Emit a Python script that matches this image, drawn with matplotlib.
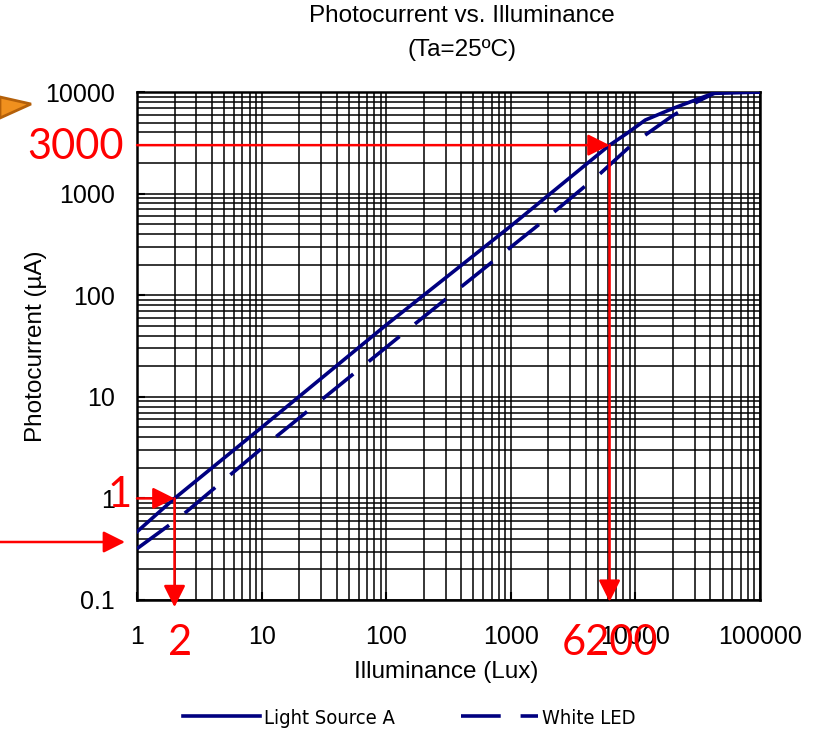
import numpy as np
import matplotlib.pyplot as plt
from matplotlib.ticker import LogLocator, FixedLocator, FixedFormatter, NullFormatter
from matplotlib.patches import Polygon, FancyArrowPatch

plt.rcParams['font.family'] = ['Liberation Sans', 'DejaVu Sans']

# curve data
lux_a = [1, 2, 10, 100, 1000, 6200, 8500, 12000, 20000, 42000, 100000]
ia_a = [0.47, 1.0, 5.0, 51, 480, 3000, 3900, 5300, 6900, 9700, 10000]

lux_led = [1, 2.2, 10, 199, 1715, 5200, 9550, 20000, 33000, 45000, 100000]
ia_led = [0.32, 0.65, 3.1, 61, 506, 1570, 3100, 5880, 8300, 10000, 10000]

xticks = [1, 10, 100, 1000, 10000, 100000]
xtick_labels = ['1', '10', '100', '1000', '10000', '100000']
yticks = [0.1, 1, 10, 100, 1000, 10000]
ytick_labels = ['0.1', '1', '10', '100', '1000', '10000']

# red reading marks: (lux, photocurrent)
mark_x = [2, 6200]
mark_y = [1, 3000]

navy = '#000080'
red = '#ff0000'

fig = plt.figure(figsize=(8.19, 7.38), dpi=100)
ax = fig.add_axes([0.1673, 0.187, 0.7607, 0.6883])

la, = ax.plot(lux_a, ia_a, color=navy, lw=2.6, label='Light Source A', zorder=3)
lw_, = ax.plot(lux_led, ia_led, color=navy, lw=2.6, dashes=(11, 5.5),
               label='White LED', zorder=3)

ax.set_xscale('log')
ax.set_yscale('log')
ax.set_xlim(1, 100000)
ax.set_ylim(0.1, 10000)

ax.xaxis.set_major_locator(FixedLocator(xticks))
ax.xaxis.set_major_formatter(FixedFormatter(xtick_labels))
ax.yaxis.set_major_locator(FixedLocator(yticks))
ax.yaxis.set_major_formatter(FixedFormatter(ytick_labels))
for a in (ax.xaxis, ax.yaxis):
    a.set_minor_locator(LogLocator(base=10, subs=np.arange(2, 10), numticks=20))
    a.set_minor_formatter(NullFormatter())

ax.grid(True, which='both', color='black', lw=1.1)
ax.tick_params(which='major', direction='in', length=6, width=1.5,
               labelsize=18, colors='black')
ax.tick_params(axis='x', which='major', pad=18)
ax.tick_params(axis='y', which='major', pad=16)
ax.tick_params(which='minor', length=0)
for s in ax.spines.values():
    s.set_linewidth(1.8)

ax.set_xlabel('Illuminance (Lux)', fontsize=17.5)
ax.set_ylabel('Photocurrent (\u00b5A)', fontsize=17.5)
ax.xaxis.set_label_coords(0.496, -0.12)
ax.yaxis.set_label_coords(-0.145, 0.5)

fig.text(0.564, 0.978, 'Photocurrent vs. Illuminance', fontsize=17.5,
         ha='center', va='center')
fig.text(0.564, 0.932, '(Ta=25\u00baC)', fontsize=17.5, ha='center', va='center')

# red reading arrows
arrow = dict(arrowstyle='-|>,head_length=0.6,head_width=0.3', color=red,
             lw=1.8, mutation_scale=22, shrinkA=0, shrinkB=0)
for mx, my, tail in zip(mark_x, mark_y, [0.85, 0.96]):
    ax.annotate('', xy=(mx, my), xytext=(1, my), arrowprops=arrow,
                annotation_clip=False, zorder=5)
    ax.annotate('', xy=(mx, 0.1 * tail), xytext=(mx, my), arrowprops=arrow,
                annotation_clip=False, zorder=5)

fig.text(120 / 819, 1 - 495 / 738, '1', color=red, fontsize=30, family='Lato',
         ha='center', va='center')
fig.text(180 / 819, 1 - 643 / 738, '2', color=red, fontsize=30, family='Lato',
         ha='center', va='center')
fig.text(75 / 819, 1 - 147 / 738, '3000', color=red, fontsize=30, family='Lato',
         ha='center', va='center')
fig.text(610 / 819, 1 - 643 / 738, '6200', color=red, fontsize=30, family='Lato',
         ha='center', va='center')

# arrow coming in from the left margin
fig.patches.append(FancyArrowPatch(
    (0, 1 - 542 / 738), (125 / 819, 1 - 542 / 738), transform=fig.transFigure,
    arrowstyle='-|>,head_length=0.6,head_width=0.3', color=red, lw=1.8,
    mutation_scale=22, shrinkA=0, shrinkB=0))

# orange pointer cut off at the top-left
fig.patches.append(Polygon([[0, 1 - 97 / 738], [31 / 819, 1 - 104 / 738],
                            [0, 1 - 118 / 738]], closed=True,
                           transform=fig.transFigure, facecolor='#f0901e',
                           edgecolor='#b4600a', lw=2))

fig.legend([la, lw_], ['Light Source A', 'White LED'], loc='center',
           bbox_to_anchor=(0.50, 1 - 718 / 738), ncol=2, frameon=False,
           handlelength=3.8, handletextpad=0.2, columnspacing=3.3,
           prop=dict(family='DejaVu Sans', stretch='condensed', size=14.5))

fig.savefig('out.png', dpi=100)
